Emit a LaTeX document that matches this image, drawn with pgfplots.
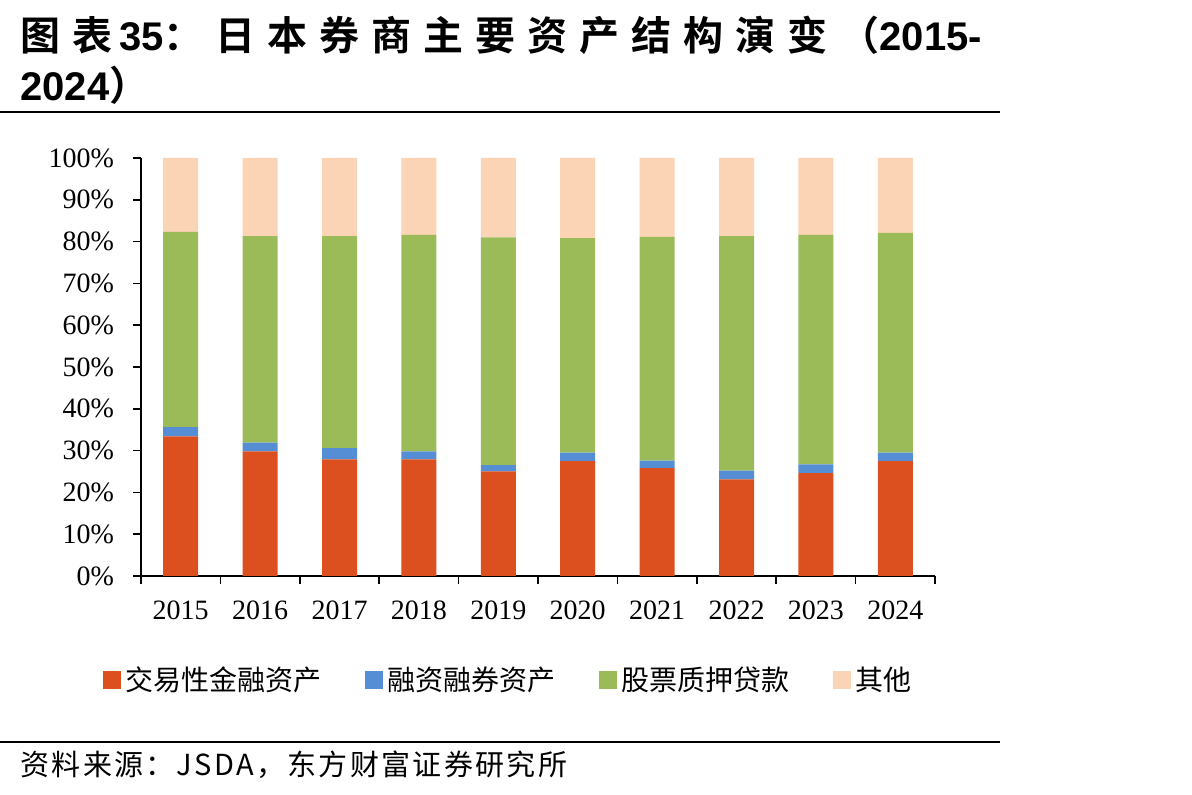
\documentclass[border=0pt]{standalone}
\usepackage{fontspec}
\setmainfont{Liberation Serif}
\newfontfamily\cjk{Noto Sans CJK SC}
\newfontfamily\cjks{Noto Sans CJK SC}[LetterSpace=8]
\newfontfamily\cjkb{Noto Sans CJK SC Bold}[LetterSpace=30]
\newfontfamily\arialb{Liberation Sans Bold}
\usepackage{pgfplots}
\pgfplotsset{compat=1.18}
\definecolor{cRed}{HTML}{DC4F1F}
\definecolor{cBlue}{HTML}{558ED5}
\definecolor{cGreen}{HTML}{9BBB59}
\definecolor{cPeach}{HTML}{FBD3B5}
\pgfplotstableread{
x red blue green other
0 33.4 2.2 46.7 17.7
1 29.8 2.1 49.4 18.7
2 27.9 2.7 50.7 18.7
3 27.9 1.9 51.8 18.4
4 25.0 1.5 54.5 19.0
5 27.5 2.0 51.3 19.2
6 25.8 1.8 53.5 18.9
7 23.1 2.1 56.1 18.7
8 24.6 2.1 54.9 18.4
9 27.5 2.0 52.6 17.9
}\datatable
\begin{document}
\begin{tikzpicture}
\path[use as bounding box] (0,0) rectangle (596pt,397.5pt);
% title
\node[anchor=west,inner sep=0pt] at (10pt,380pt) {\fontsize{20pt}{24pt}\selectfont{\cjkb 图表}\,{\arialb 35}{\cjkb ：日本券商主要资产结构演变（}{\arialb 2015-}};
\node[anchor=west,inner sep=0pt] at (10pt,355pt) {\fontsize{20pt}{24pt}\selectfont{\arialb 2024}{\cjkb ）}};
\draw[line width=1pt] (0pt,341.5pt) -- (500pt,341.5pt);
\draw[line width=1pt] (0pt,26.5pt) -- (500pt,26.5pt);
\node[anchor=west,inner sep=0pt] at (10pt,15pt) {\fontsize{14.5pt}{16pt}\selectfont\cjks 资料来源：JSDA，东方财富证券研究所};
\begin{axis}[
  at={(70.5pt,109.5pt)}, anchor=south west,
  scale only axis, width=397pt, height=209pt,
  ybar stacked, bar width=17.5pt,
  xmin=-0.5, xmax=9.5, ymin=0, ymax=100,
  axis lines*=left,
  axis line style={line width=0.8pt},
  xtick={-0.5,0.5,...,9.5}, xticklabels={},
  extra x ticks={0,...,9},
  extra x tick labels={2015,2016,2017,2018,2019,2020,2021,2022,2023,2024},
  extra x tick style={major tick length=0pt},
  ytick={0,10,...,100},
  yticklabel={\pgfmathprintnumber{\tick}\%},
  tick align=outside, major tick length=4pt,
  tick style={line width=0.8pt, black},
  tick label style={font=\fontsize{14pt}{16pt}\selectfont},
  /pgf/number format/assume math mode=true,
  xticklabel style={yshift=-9pt},
  yticklabel style={xshift=-6pt},
  legend columns=4,
  legend style={at={(0.464,-0.25)}, anchor=center, draw=none, fill=none,
    font=\fontsize{14pt}{16pt}\selectfont\cjk,
    /tikz/every even column/.append style={column sep=20pt}},
  legend image code/.code={\fill[#1] (0pt,-4.5pt) rectangle (9pt,4.5pt);},
]
\addplot[fill=cRed, draw=none] table[x=x,y=red] {\datatable};
\addplot[fill=cBlue, draw=none] table[x=x,y=blue] {\datatable};
\addplot[fill=cGreen, draw=none] table[x=x,y=green] {\datatable};
\addplot[fill=cPeach, draw=none] table[x=x,y=other] {\datatable};
\legend{交易性金融资产,融资融券资产,股票质押贷款,其他}
\end{axis}
\end{tikzpicture}
\end{document}
